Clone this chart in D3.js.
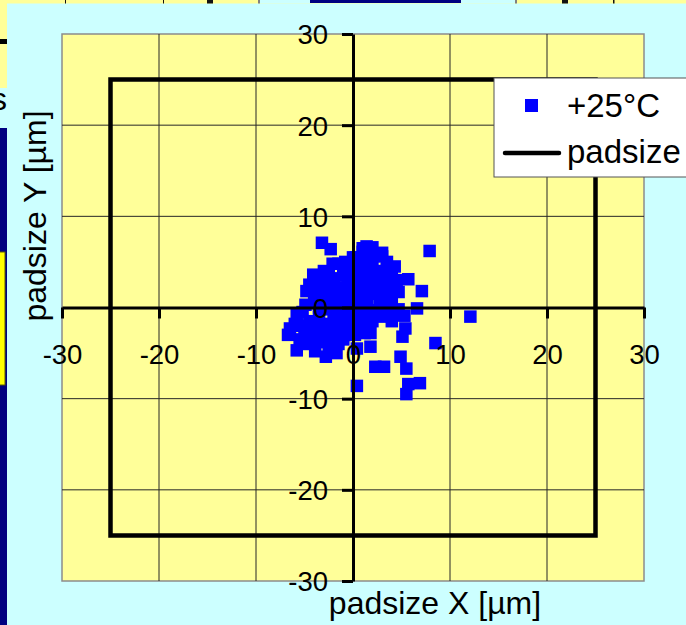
<!DOCTYPE html>
<html>
<head>
<meta charset="utf-8">
<script src="https://cdn.jsdelivr.net/npm/d3@7"></script>
<style>
  html, body { margin: 0; padding: 0; background: #ccffff; overflow: hidden; }
  svg { display: block; font-family: "Liberation Sans", Arial, sans-serif; }
</style>
</head>
<body>
<svg id="chart" width="686" height="625"></svg>
<script>
// Measured bump offsets at +25°C, in µm
const offsetX = [
  -3.2, -2.3, -2.1, 7.9, 12.1, 5.7, 7.1, 6.6, 5.3, 5.4, 5.1, 8.5, 4.9, 5.5, 6.9, 5.7, 5.5, 0.4,
  2.3, 3.2, 1.8, 1.8, 0.4, -2.8, -3.9, -5.8, -6.7, -6.5, -4.9, -4.1, -0.8, -1.7, 1.4, 1.0,
  3.0, 4.3, 4.5, 4.7, 4.7,
  -4.5, -3.8, -3.0, -2.5, -1.5, -1.0, -0.5, 0.0, 0.5, 1.2, 2.0, 2.5, 3.2, 3.8, 2.8, 1.8,
  0.8, -0.2, -1.2, -2.2, -3.2, -4.0, -5.2, -4.5, -3.5, -2.8, -1.8, -0.8, 0.2, 1.2, 2.2,
  3.2, 4.0, 3.5, 2.5, 1.5, 0.5, -0.5, -1.5, -2.5, -3.5, -4.5, -5.5, -4.8, -3.2, -2.2,
  -1.0, 0.8, 2.0, 3.0, 4.0, -6.0, -5.8, -3.0, -2.0, -1.5, 0.3, 2.2, 3.5, 1.5, -0.5,
  2.8, -2.0, 0.0, 1.0, 3.8, -4.0, -1.5, -3.5, 0.5, 2.5,
  -4.0, -3.0, -2.0, -1.0, 0.0, 1.0, 2.0, 3.0, 4.0, 3.5, 2.0, 1.0, 0.0, -1.0, -2.5, -3.8,
  -4.8, -5.5, -4.0, -3.0, -2.0, -1.0, 0.0, 1.0, 2.0, 3.0, 4.2, -1.2, -2.5, 0.5, 1.5, 2.5,
  -0.5, -1.8, -3.0, -4.2, -5.0, -2.5, -1.0, 0.2, 1.2, 1.0, 2.0, 0.0, -0.8, 3.0, 4.0
];
const offsetY = [
  7.1, 6.4, 4.8, 6.2, -1.0, 3.1, 1.8, -0.1, -0.9, -2.3, -3.2, -3.9, -5.4, -6.7, -8.3, -8.4, -9.5, -8.6,
  -6.5, -6.5, -4.3, -2.8, -4.5, -5.4, -4.8, -4.7, -3.0, -2.3, 0.3, 3.6, -3.0, -5.0, 6.7, 6.1,
  5.6, 4.5, 3.0, 1.7, -0.2,
  2.5, 2.0, 2.8, 1.5, 2.2, 3.5, 4.2, 3.0, 4.5, 5.0, 4.8, 4.0, 3.8, 3.2, 2.5, 3.2,
  2.0, 1.5, 1.0, 0.5, 0.8, 1.2, -0.5, -1.5, -1.0, -0.2, -0.5, 0.2, 0.5, 1.0, 1.5,
  1.8, 1.0, 0.2, -0.3, -0.8, -1.2, -1.5, -1.8, -2.2, -2.5, -2.8, -3.5, -4.0, -3.8, -3.2,
  -2.5, -2.0, -1.5, -1.0, -1.5, -1.8, -0.8, 4.0, 3.2, 4.8, 5.5, 5.8, 5.0, 2.5, 2.8,
  0.8, -1.0, -0.5, 0.0, -0.5, -3.5, -4.0, 0.0, 3.5, 3.0,
  0.5, 1.5, 2.5, 2.0, 2.2, 3.0, 2.2, 2.8, 2.2, 4.2, 3.8, 4.2, 4.0, 4.5, 3.8, 3.0,
  1.8, -2.0, -2.0, -1.8, -2.5, -1.2, -1.8, -1.5, -0.8, 0.0, -0.8, -0.2, 0.2, 1.2, 0.5, 2.0,
  3.5, 1.5, -3.0, -3.2, -2.5, -4.2, -3.5, -3.0, -2.8, 6.5, 6.6, 5.5, 5.0, 6.0, 4.0
];
// Pad outline corners (half pad size 25 µm)
const padX = [-25, 25, 25, -25, -25];
const padY = [25, 25, -25, -25, 25];
const tickValues = [-30, -20, -10, 0, 10, 20, 30];
const gridValues = [-20, -10, 10, 20];
const seriesNames = ["+25°C", "padsize"];

const svg = d3.select("#chart");

// Fragments of the surrounding slide
const frag = svg.append("g");
frag.append("rect").attr("x", 0).attr("y", 0).attr("width", 686).attr("height", 3.5).attr("fill", "#ffff99");
frag.append("rect").attr("x", 0).attr("y", 0).attr("width", 7).attr("height", 88).attr("fill", "#ffff99");
frag.append("rect").attr("x", 0).attr("y", 39).attr("width", 7).attr("height", 5).attr("fill", "#000");
[[65, 1], [163, 1], [207, 6], [258, 2], [515, 2], [562, 6], [613, 1.5]].forEach(([px, w]) =>
  frag.append("rect").attr("x", px).attr("y", 0).attr("width", w).attr("height", 3.5)
    .attr("fill", px === 258 || px === 515 ? "#808080" : "#111"));
frag.append("rect").attr("x", 260).attr("y", 0).attr("width", 50).attr("height", 3.5).attr("fill", "#ccffff");
frag.append("rect").attr("x", 461).attr("y", 0).attr("width", 54).attr("height", 3.5).attr("fill", "#ccffff");
frag.append("rect").attr("x", 310).attr("y", 0).attr("width", 151).attr("height", 3).attr("fill", "#000080");
frag.append("rect").attr("x", 0).attr("y", 128).attr("width", 7).attr("height", 497).attr("fill", "#000080");
frag.append("rect").attr("x", -1).attr("y", 252).attr("width", 6).attr("height", 133)
  .attr("fill", "#ffff00").attr("stroke", "#5a5a00").attr("stroke-width", 1);
frag.append("text").attr("x", -9).attr("y", 110).attr("font-size", 32).attr("fill", "#000").text("s");

const plotL = 62, plotR = 644, plotT = 34, plotB = 581;
const x = d3.scaleLinear().domain([-30, 30]).range([plotL, plotR]);
const y = d3.scaleLinear().domain([-30, 30]).range([plotB, plotT]);

// Plot area
svg.append("rect").attr("x", plotL).attr("y", plotT).attr("width", plotR - plotL).attr("height", plotB - plotT)
  .attr("fill", "#ffff99").attr("stroke", "#8c8c8c").attr("stroke-width", 1.5);

// Gridlines
const grid = svg.append("g").attr("stroke", "#262626").attr("stroke-width", 1);
grid.selectAll(".gv").data(gridValues).join("line").attr("class", "gv")
  .attr("x1", d => x(d)).attr("x2", d => x(d)).attr("y1", plotT).attr("y2", plotB);
grid.selectAll(".gh").data(gridValues).join("line").attr("class", "gh")
  .attr("y1", d => y(d)).attr("y2", d => y(d)).attr("x1", plotL).attr("x2", plotR);

// Pad outline
const padLine = d3.line().x(d => x(d[0])).y(d => y(d[1]));
svg.append("path").datum(padX.map((v, i) => [v, padY[i]]))
  .attr("d", padLine).attr("fill", "none").attr("stroke", "#000")
  .attr("stroke-width", 4.5).attr("stroke-linejoin", "miter").attr("stroke-linecap", "square");

// Axes crossing at the origin (plain hyphen for negatives)
const fmt = d => String(d);
const xAxis = d3.axisBottom(x).tickValues(tickValues).tickSize(11).tickSizeOuter(0).tickPadding(25).tickFormat(fmt);
const yAxis = d3.axisLeft(y).tickValues(tickValues).tickSize(11).tickSizeOuter(0).tickPadding(14).tickFormat(fmt);

const gx = svg.append("g").attr("transform", `translate(0,${y(0)})`).call(xAxis);
const gy = svg.append("g").attr("transform", `translate(${x(0)},0)`).call(yAxis);
[gx, gy].forEach(g => {
  g.select(".domain").attr("stroke", "#000").attr("stroke-width", 3);
  g.selectAll(".tick line").attr("stroke", "#000").attr("stroke-width", 3);
  g.selectAll(".tick text").attr("fill", "#000").attr("font-size", 27.5)
    .attr("font-family", "Liberation Sans, Arial, sans-serif");
});
gx.selectAll(".tick text").attr("dy", "0.74em");
gy.selectAll(".tick text").attr("dy", "0.36em");

// Markers
const pts = offsetX.map((v, i) => [v, offsetY[i]]);
const ms = 12.5;
svg.append("g").selectAll("rect").data(pts).join("rect")
  .attr("x", d => x(d[0]) - ms / 2).attr("y", d => y(d[1]) - ms / 2)
  .attr("width", ms).attr("height", ms).attr("fill", "#0000ff");

// Tick labels sit above the markers
gx.raise(); gy.raise();

// Axis titles
svg.append("text").attr("x", 435).attr("y", 614).attr("text-anchor", "middle")
  .attr("font-size", 32).attr("fill", "#000").text("padsize X [µm]");
svg.append("text").attr("transform", "translate(46,216) rotate(-90)").attr("text-anchor", "middle")
  .attr("font-size", 32).attr("fill", "#000").text("padsize Y [µm]");

// Legend
const lg = svg.append("g");
lg.append("rect").attr("x", 494).attr("y", 78).attr("width", 200).attr("height", 99)
  .attr("fill", "#fff").attr("stroke", "#555").attr("stroke-width", 1);
lg.append("rect").attr("x", 525).attr("y", 99).attr("width", 13).attr("height", 13).attr("fill", "#0000ff");
lg.append("line").attr("x1", 505).attr("x2", 559).attr("y1", 153).attr("y2", 153)
  .attr("stroke", "#000").attr("stroke-width", 4.5).attr("stroke-linecap", "round");
lg.selectAll("text.lt").data(seriesNames).join("text").attr("class", "lt")
  .attr("x", 567).attr("y", (d, i) => i === 0 ? 117 : 163)
  .attr("font-size", 33).attr("fill", "#000").text(d => d);
</script>
</body>
</html>
